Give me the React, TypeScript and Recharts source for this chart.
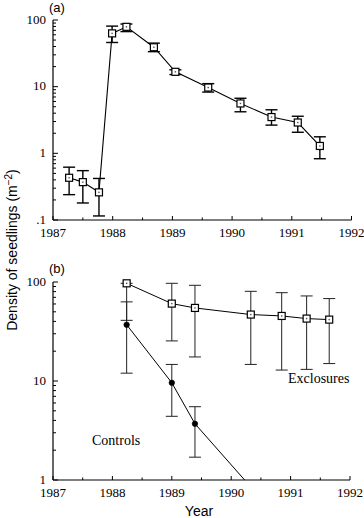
import React from 'react';
import { LineChart, Line, XAxis, YAxis, ErrorBar } from 'recharts';

// Panel (a): seedling density over time
const A_YEARS = [1987.27, 1987.5, 1987.77, 1987.99, 1988.23, 1988.69, 1989.05, 1989.6, 1990.14, 1990.66, 1991.1, 1991.47];
const A_DENSITY = [0.43, 0.37, 0.26, 63, 79, 39, 16.7, 9.7, 5.6, 3.5, 2.9, 1.29];
const A_LOW = [0.24, 0.18, 0.115, 46, 67, 33.5, 15.2, 8.3, 4.2, 2.65, 2.07, 0.83];
const A_HIGH = [0.62, 0.55, 0.42, 81, 87, 45, 17.9, 11.1, 6.7, 4.5, 3.6, 1.77];

// Panel (b): exclosures vs controls
const EXCL_YEARS = [1988.24, 1989.0, 1989.39, 1990.33, 1990.85, 1991.27, 1991.65];
const EXCL_DENSITY = [97, 60.5, 54.7, 46.9, 45.4, 42.7, 41.7];
const EXCL_LOW = [41, 25.4, 17.5, 14.7, 12.9, 13.1, 15];
const EXCL_HIGH = [97, 97, 92.6, 80.5, 78, 72.3, 68];

const CTRL_YEARS = [1988.24, 1989.0, 1989.39, 1990.33];
const CTRL_DENSITY = [37, 9.6, 3.7, 0.85];
const CTRL_LOW: (number | null)[] = [12, 4.4, 1.7, null];
const CTRL_HIGH: (number | null)[] = [63, 14.7, 5.5, null];

const YEAR_TICKS = [1987, 1987.5, 1988, 1988.5, 1989, 1989.5, 1990, 1990.5, 1991, 1991.5, 1992];
const LOG_TICKS_A = [0.1, 0.2, 0.3, 0.4, 0.5, 0.6, 0.7, 0.8, 0.9, 1, 2, 3, 4, 5, 6, 7, 8, 9, 10, 20, 30, 40, 50, 60, 70, 80, 90, 100];
const LOG_TICKS_B = [1, 2, 3, 4, 5, 6, 7, 8, 9, 10, 20, 30, 40, 50, 60, 70, 80, 90, 100];

const build = (years: number[], vals: number[], lows: (number | null)[], highs: (number | null)[]) =>
  years.map((year, i) => {
    const lo = lows[i];
    const hi = highs[i];
    return {
      year,
      density: vals[i],
      err: lo == null || hi == null ? undefined : [vals[i] - lo, hi - vals[i]],
    };
  });

const dataA = build(A_YEARS, A_DENSITY, A_LOW, A_HIGH);
const dataExcl = build(EXCL_YEARS, EXCL_DENSITY, EXCL_LOW, EXCL_HIGH);
const dataCtrl = build(CTRL_YEARS, CTRL_DENSITY, CTRL_LOW, CTRL_HIGH);

const SERIF = '"Liberation Serif", "Times New Roman", Times, serif';
const SANS = '"Liberation Sans", Arial, Helvetica, sans-serif';

const isDecade = (v: number) => Math.abs(Math.log10(v) - Math.round(Math.log10(v))) < 1e-6;
const decadeLabel = (v: number) => (v >= 1 ? String(Math.round(v)) : '.1');

const YTick = (props: any) => {
  const { x, y, payload } = props;
  const v = payload.value;
  const major = isDecade(v);
  return (
    <g>
      <line x1={x} y1={y} x2={x + (major ? 5 : 3)} y2={y} stroke="#000" strokeWidth={1} />
      {major && (
        <text x={x - 7} y={y + 3.5} textAnchor="end" style={{ fontFamily: SERIF, fontSize: 13 }} fill="#000">
          {decadeLabel(v)}
        </text>
      )}
    </g>
  );
};

const XTick = (props: any) => {
  const { x, y, payload } = props;
  const v = payload.value;
  const major = Math.abs(v - Math.round(v)) < 1e-6;
  return (
    <g>
      <line x1={x} y1={y} x2={x} y2={y - (major ? 4 : 2.5)} stroke="#000" strokeWidth={1} />
      {major && (
        <text x={x} y={y + 17} textAnchor="middle" style={{ fontFamily: SERIF, fontSize: 13 }} fill="#000">
          {String(v)}
        </text>
      )}
    </g>
  );
};

const SquareDot = (props: any) => {
  const { cx, cy, index } = props;
  if (cx == null || cy == null) return <g key={`sq-${index}`} />;
  return (
    <g key={`sq-${index}`}>
      <rect x={cx - 3.5} y={cy - 3.5} width={7} height={7} fill="#fff" stroke="#000" strokeWidth={1.2} />
      <rect x={cx - 0.7} y={cy - 0.7} width={1.4} height={1.4} fill="#555" />
    </g>
  );
};

const CircleDot = (props: any) => {
  const { cx, cy, index } = props;
  if (cx == null || cy == null) return <g key={`ci-${index}`} />;
  return <circle key={`ci-${index}`} cx={cx} cy={cy} r={2.8} fill="#000" stroke="#000" strokeWidth={0.5} />;
};

const axisLine = { stroke: '#000', strokeWidth: 1.2 };

export default function App() {
  return (
    <div style={{ position: 'absolute', left: 0, top: 0, width: 364, height: 518, background: '#fff', overflow: 'hidden' }}>
      <div style={{ position: 'absolute', left: 0, top: 0 }}>
        <LineChart width={364} height={250} margin={{ top: 20, right: 12.5, bottom: 0, left: 0 }}>
          <XAxis
            type="number"
            dataKey="year"
            domain={[1987, 1992]}
            ticks={YEAR_TICKS}
            interval={0}
            height={30}
            tickSize={0}
            tickMargin={0}
            tickLine={false}
            axisLine={axisLine}
            tick={<XTick />}
          />
          <YAxis
            type="number"
            scale="log"
            domain={[0.1, 100]}
            ticks={LOG_TICKS_A}
            interval={0}
            width={53}
            tickSize={0}
            tickMargin={0}
            tickLine={false}
            axisLine={axisLine}
            tick={<YTick />}
          />
          <Line
            data={dataA}
            dataKey="density"
            type="linear"
            stroke="#000"
            strokeWidth={1.1}
            dot={SquareDot}
            isAnimationActive={false}
          >
            <ErrorBar dataKey="err" direction="y" width={6} stroke="#000" strokeWidth={1.4} />
          </Line>
        </LineChart>
      </div>
      <div style={{ position: 'absolute', left: 0, top: 250 }}>
        <LineChart width={364} height={268} margin={{ top: 32, right: 14, bottom: 0, left: 0 }}>
          <XAxis
            type="number"
            dataKey="year"
            domain={[1987, 1992]}
            ticks={YEAR_TICKS}
            interval={0}
            height={38}
            tickSize={0}
            tickMargin={0}
            tickLine={false}
            axisLine={axisLine}
            tick={<XTick />}
          />
          <YAxis
            yAxisId="main"
            orientation="left"
            type="number"
            scale="log"
            domain={[1, 100]}
            ticks={LOG_TICKS_B}
            interval={0}
            width={53}
            tickSize={0}
            tickMargin={0}
            tickLine={false}
            axisLine={axisLine}
            tick={<YTick />}
          />
          <YAxis
            yAxisId="clipped"
            orientation="right"
            type="number"
            scale="log"
            domain={[1, 100]}
            allowDataOverflow
            width={0}
            hide
          />
          <Line
            yAxisId="main"
            data={dataExcl}
            dataKey="density"
            type="linear"
            stroke="#000"
            strokeWidth={1}
            dot={SquareDot}
            isAnimationActive={false}
          >
            <ErrorBar dataKey="err" direction="y" width={6} stroke="#222" strokeWidth={1} />
          </Line>
          <Line
            yAxisId="clipped"
            data={dataCtrl}
            dataKey="density"
            type="linear"
            stroke="#000"
            strokeWidth={1}
            dot={CircleDot}
            isAnimationActive={false}
          >
            <ErrorBar dataKey="err" direction="y" width={6} stroke="#222" strokeWidth={1} />
          </Line>
        </LineChart>
      </div>
      <svg
        width={364}
        height={518}
        style={{ position: 'absolute', left: 0, top: 0, pointerEvents: 'none' }}
      >
        <text x={49} y={12} style={{ fontFamily: SANS, fontSize: 13 }} fill="#000">(a)</text>
        <text x={49} y={273} style={{ fontFamily: SANS, fontSize: 13 }} fill="#000">(b)</text>
        <text x={92} y={444.5} style={{ fontFamily: SERIF, fontSize: 14 }} fill="#000">Controls</text>
        <text x={288} y={382.5} style={{ fontFamily: SERIF, fontSize: 14 }} fill="#000">Exclosures</text>
        <text x={199} y={516} textAnchor="middle" style={{ fontFamily: SANS, fontSize: 14 }} fill="#000">Year</text>
        <text
          x={0}
          y={0}
          transform="translate(17, 250) rotate(-90)"
          textAnchor="middle"
          style={{ fontFamily: SANS, fontSize: 14 }}
          fill="#000"
        >
          Density of seedlings (m
          <tspan dy={-5} style={{ fontSize: 10 }}>−2</tspan>
          <tspan dy={5}>)</tspan>
        </text>
      </svg>
    </div>
  );
}
